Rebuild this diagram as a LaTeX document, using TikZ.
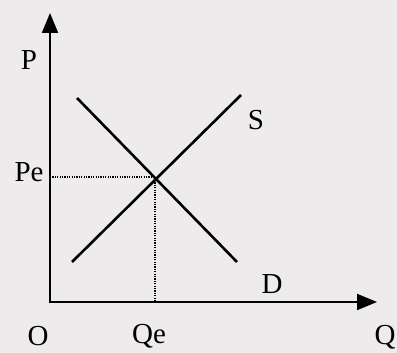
\documentclass[tikz,border=0pt]{standalone}
\usepackage{fontspec}
\setmainfont{Liberation Serif}
\usetikzlibrary{arrows.meta}
\definecolor{bg}{RGB}{238,235,237}
\tikzset{
  axis/.style={line width=2pt,-{Triangle[length=20pt,width=16pt]}},
  curve/.style={line width=2.6pt},
  guide/.style={line width=1.2pt,dash pattern=on 1.2pt off 1.2pt},
  lbl/.style={font=\fontsize{29}{32}\selectfont,inner sep=0pt}
}
\begin{document}
\begin{tikzpicture}[x=1pt,y=1pt]
\clip (0,0) rectangle (397,353);
\fill[bg] (0,0) rectangle (397,353);
\coordinate (o) at (50,51);
\coordinate (ytop) at (50,340);
\coordinate (xend) at (377,51);
\coordinate (s1) at (72,91);
\coordinate (s2) at (241,258);
\coordinate (d1) at (77,255);
\coordinate (d2) at (237,91);
\coordinate (e) at (155,176);
\coordinate (pe) at (50,176);
\coordinate (qe) at (155,51);
\draw[axis] (o) -- (ytop);
\draw[axis] ([xshift=-1pt]o) -- (xend);
\draw[curve] (s1) -- (s2);
\draw[curve] (d1) -- (d2);
\draw[guide] (pe) -- (e) -- (qe);
\node[lbl] (lp) at (29,293) {P};
\node[lbl] (lpe) at (29,181) {Pe};
\node[lbl] (ls) at (256,233) {S};
\node[lbl] (ld) at (272,69) {D};
\node[lbl] (lo) at (38,17) {O};
\node[lbl] (lqe) at (149,17) {Qe};
\node[lbl] (lq) at (385,16) {Q};
\end{tikzpicture}
\end{document}
